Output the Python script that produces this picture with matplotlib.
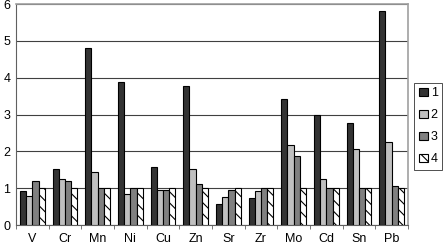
import numpy as np
import matplotlib
matplotlib.use("Agg")
import matplotlib.pyplot as plt

plt.rcParams['font.family'] = ['Liberation Sans', 'DejaVu Sans']
plt.rcParams['hatch.linewidth'] = 0.8

elements = ['V', 'Cr', 'Mn', 'Ni', 'Cu', 'Zn', 'Sr', 'Zr', 'Mo', 'Cd', 'Sn', 'Pb']
s1 = [0.93, 1.51, 4.80, 3.88, 1.58, 3.78, 0.56, 0.74, 3.42, 3.00, 2.77, 5.80]
s2 = [0.79, 1.26, 1.45, 0.83, 0.96, 1.53, 0.77, 0.93, 2.16, 1.26, 2.05, 2.24]
s3 = [1.20, 1.20, 1.00, 1.00, 0.96, 1.10, 0.94, 1.00, 1.86, 1.00, 1.00, 1.07]
s4 = [1.00, 1.00, 1.00, 1.00, 1.00, 1.00, 1.00, 1.00, 1.00, 1.00, 1.00, 1.00]
series_names = ['1', '2', '3', '4']

fig = plt.figure(figsize=(4.43, 2.47), dpi=100)
ax = fig.add_axes([16/443, 22/247, 392/443, 221/247])

x = np.arange(len(elements))
w = 0.19
styles = [
    dict(color='#333333', edgecolor='black'),
    dict(color='#c0c0c0', edgecolor='black'),
    dict(color='#808080', edgecolor='black'),
    dict(color='white', edgecolor='black', hatch='\\\\\\'),
]
for i, (vals, st, name) in enumerate(zip([s1, s2, s3, s4], styles, series_names)):
    ax.bar(x + (i - 1.5) * w, vals, w, linewidth=0.8, label=name, zorder=3, **st)

ax.set_xlim(-0.5, len(elements) - 0.5)
ax.set_ylim(0, 6)
ax.set_yticks(range(7))
ax.yaxis.grid(True, color='#404040', linewidth=0.8, zorder=0)
ax.set_xticks(x)
ax.set_xticklabels(elements, fontsize=9)
ax.set_xticks(np.arange(-0.5, len(elements)), minor=True)
ax.tick_params(axis='x', which='major', length=0, pad=6)
ax.tick_params(axis='x', which='minor', length=3, color='#606060')
ax.tick_params(axis='y', length=0, labelsize=9, pad=4)

for side in ['top', 'right']:
    ax.spines[side].set_color('#a0a0a0')
    ax.spines[side].set_linewidth(1.2)
ax.spines['left'].set_color('#606060')
ax.spines['bottom'].set_color('#606060')

leg = fig.legend(loc='upper right', bbox_to_anchor=(442/443, 1 - 83/247), fontsize=9,
                 frameon=True, fancybox=False, edgecolor='black', handlelength=0.7,
                 handleheight=0.7, handletextpad=0.25, borderpad=0.35, labelspacing=0.8,
                 borderaxespad=0)
leg.get_frame().set_linewidth(0.6)

fig.savefig('out.png', dpi=100)
